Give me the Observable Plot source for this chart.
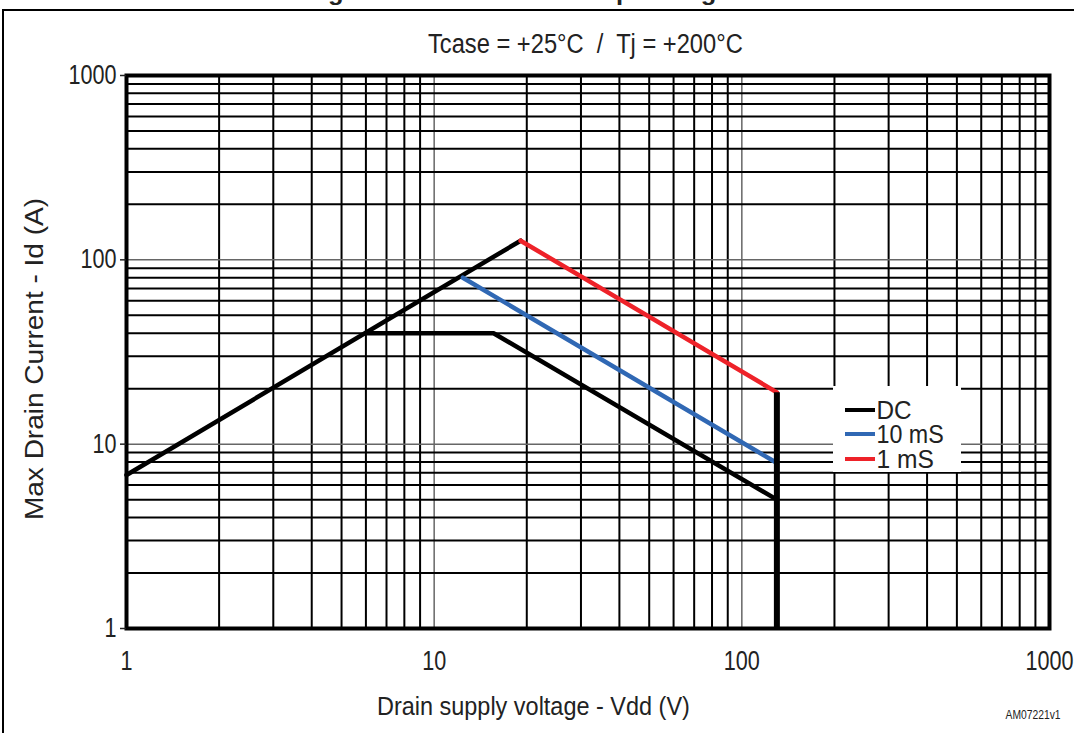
<!DOCTYPE html>
<html>
<head>
<meta charset="utf-8">
<script src="https://cdn.jsdelivr.net/npm/d3@7"></script>
<script src="https://cdn.jsdelivr.net/npm/@observablehq/plot@0.6"></script>
<style>
  html, body { margin: 0; padding: 0; background: #fff; }
  #fig { position: relative; width: 1074px; height: 733px; overflow: hidden; font-family: "Liberation Sans", Arial, sans-serif; color: #222; }
  #fig svg { position: absolute; left: 0; top: 0; }
  .t { position: absolute; white-space: pre; display: inline-block; left: 0; top: 0; }
  #border { position: absolute; left: 2px; top: 9px; width: 1100px; height: 800px; border-left: 2px solid #000; border-top: 2px solid #000; }
  #legend { position: absolute; left: 833px; top: 386px; width: 128px; height: 86px; background: #fff; }
  .sw { position: absolute; left: 12px; width: 30px; height: 4px; }
</style>
</head>
<body>
<div id="fig">
  <div id="border"></div>
</div>
<script>
// ---- data ----
const seriesNames = ["DC", "10 mS", "1 mS"];
const seriesColors = ["#000000", "#3068b4", "#ee2229"];

// Rds(on) limit line (black)
const rdsV = [1, 19.1];
const rdsI = [6.8, 127];

// DC limit
const dcV = [6.0, 15.6, 130];
const dcI = [40, 40, 5];

// 10 ms pulse
const ms10V = [12.4, 130];
const ms10I = [80, 7.9];

// 1 ms pulse
const ms1V = [19.1, 130];
const ms1I = [127, 19.1];

// breakdown voltage limit (vertical)
const bvV = [130, 130];
const bvI = [19.1, 1];

// axis ticks and grid
const xTicks = [1, 10, 100, 1000];
const yTicks = [1, 10, 100, 1000];
const decades = [1, 10, 100];
const minorMult = [2, 3, 4, 5, 6, 7, 8, 9];

const titleText = "Figure 2. Maximum safe operating area";
const subtitleText = "Tcase = +25°C  /  Tj = +200°C";
const xLabel = "Drain supply voltage - Vdd (V)";
const yLabel = "Max Drain Current - Id (A)";
const codeText = "AM07221v1";

// ---- build ----
const toPts = (xs, ys) => xs.map((x, i) => ({x, y: ys[i]}));
const minorGrid = decades.flatMap(d => minorMult.map(m => d * m));
const decadeGrid = [10, 100];

const chart = Plot.plot({
  width: 1074,
  height: 733,
  marginLeft: 126,
  marginRight: 25,
  marginTop: 75,
  marginBottom: 105,
  style: {fontFamily: '"Liberation Sans", Arial, sans-serif', fontSize: "27px", color: "#222", background: "transparent", overflow: "visible"},
  x: {type: "log", domain: [1, 1000]},
  y: {type: "log", domain: [1, 1000]},
  marks: [
    Plot.ruleX(minorGrid, {stroke: "#000", strokeWidth: 2}),
    Plot.ruleX(decadeGrid, {stroke: "#666", strokeWidth: 1.5}),
    Plot.ruleY(minorGrid, {stroke: "#000", strokeWidth: 2}),
    Plot.ruleY(decadeGrid, {stroke: "#666", strokeWidth: 1.5}),
    Plot.frame({stroke: "#000", strokeWidth: 4}),
    Plot.axisX(xTicks, {label: null, tickSize: 0, tickPadding: 22, tickFormat: d => String(d), fontSize: 27, fill: "#222"}),
    Plot.axisY(yTicks, {label: null, tickSize: 6, tickPadding: 4, tickFormat: d => String(d), fontSize: 27, fill: "#222", strokeWidth: 1.5}),
    Plot.line(toPts(rdsV, rdsI), {x: "x", y: "y", stroke: seriesColors[0], strokeWidth: 4.5}),
    Plot.line(toPts(dcV, dcI), {x: "x", y: "y", stroke: seriesColors[0], strokeWidth: 4.5}),
    Plot.line(toPts(ms10V, ms10I), {x: "x", y: "y", stroke: seriesColors[1], strokeWidth: 4.5}),
    Plot.line(toPts(ms1V, ms1I), {x: "x", y: "y", stroke: seriesColors[2], strokeWidth: 4.5}),
    Plot.line(toPts(bvV, bvI), {x: "x", y: "y", stroke: "#000", strokeWidth: 6, strokeLinecap: "butt"})
  ]
});
const fig = document.getElementById("fig");
fig.appendChild(chart);

// narrow the SVG tick labels (reference uses a condensed face)
const narrow = 0.8;
chart.querySelectorAll("text").forEach(t => {
  const tr = t.getAttribute("transform");
  if (tr && /translate/.test(tr)) {
    t.setAttribute("transform", tr + ` scale(${narrow},1)`);
  } else {
    const x = +t.getAttribute("x") || 0, y = +t.getAttribute("y") || 0;
    t.setAttribute("transform", `translate(${x},${y}) scale(${narrow},1) translate(${-x},${-y})`);
  }
});

// HTML text helper: place a text centred at (cx, cy), squeezed to width w
function place(text, cx, cy, w, size, opts = {}) {
  const s = document.createElement("span");
  s.className = "t";
  s.textContent = text;
  s.style.fontSize = size + "px";
  s.style.lineHeight = (opts.lh || size) + "px";
  if (opts.bold) s.style.fontWeight = "bold";
  fig.appendChild(s);
  const nw = s.offsetWidth, nh = s.offsetHeight;
  const sc = w ? w / nw : 1;
  s.style.left = (cx - nw / 2) + "px";
  s.style.top = (cy - nh / 2) + "px";
  s.style.transformOrigin = "50% 50%";
  s.style.transform = (opts.rotate ? `rotate(${opts.rotate}deg) ` : "") + `scaleX(${sc})`;
  return s;
}

place(titleText, 540, -7, 470, 22, {bold: true});
place(subtitleText, 585, 44, 315, 27);
place(xLabel, 533, 706, 313, 26);
place(yLabel, 33, 359, 322, 26, {rotate: -90});
place(codeText, 1033, 715, 55, 12);

// legend
const lg = document.createElement("div");
lg.id = "legend";
fig.appendChild(lg);
const legY = [410, 434, 459];
const legW = [35, 67, 57];
seriesNames.forEach((n, i) => {
  const sw = document.createElement("div");
  sw.className = "sw";
  sw.style.background = seriesColors[i];
  sw.style.top = (legY[i] - 386 - 2) + "px";
  lg.appendChild(sw);
  place(n, 876 + legW[i] / 2, legY[i], legW[i], 25, {lh: 20});
});
</script>
</body>
</html>
